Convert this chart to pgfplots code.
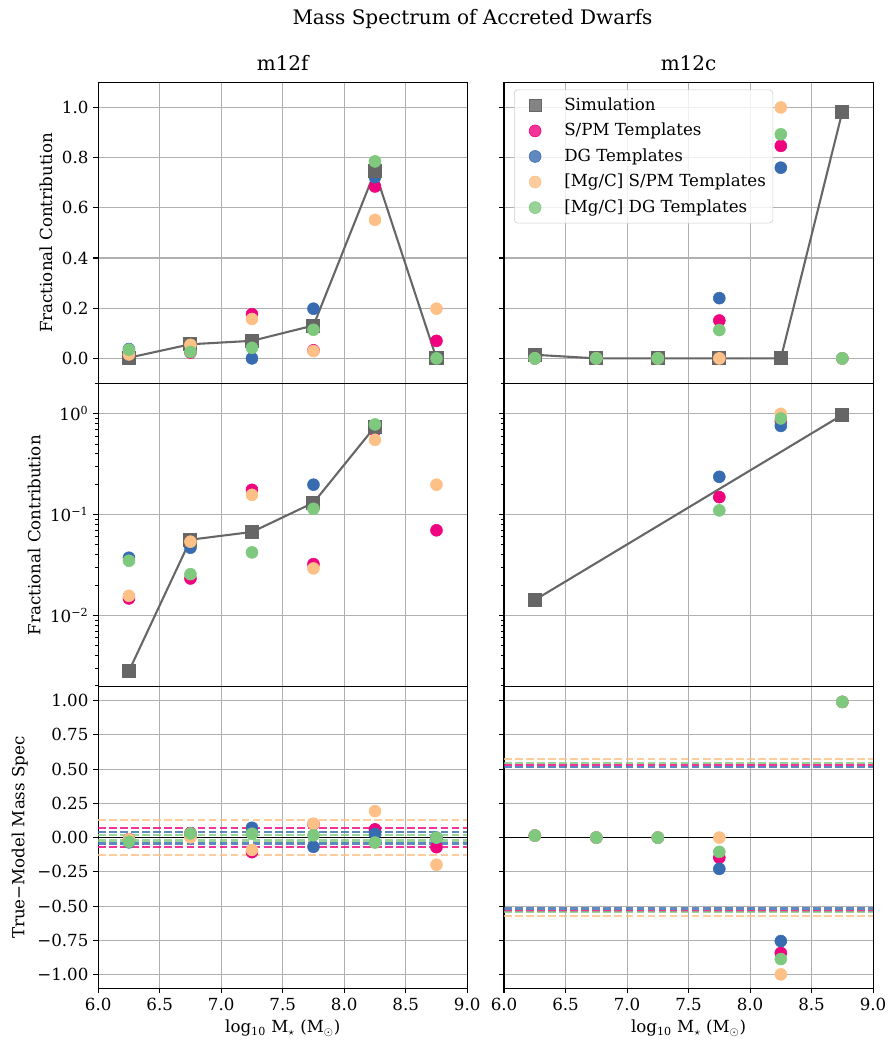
\documentclass[border=0pt]{standalone}
\usepackage{fontspec}
\setmainfont{DejaVu Serif}
\usepackage{pgfplots}
\pgfplotsset{compat=1.18}
\definecolor{cpink}{HTML}{F0027F}
\definecolor{cblue}{HTML}{386CB0}
\definecolor{corange}{HTML}{FDC086}
\definecolor{cgreen}{HTML}{7FC97F}
\definecolor{cgray}{HTML}{666666}
\definecolor{gridc}{HTML}{B0B0B0}
\pgfplotsset{
  panel/.style={scale only axis, width=265.7pt, xmin=6, xmax=9,
    xtick={6,6.5,7,7.5,8,8.5,9},
    grid=major, grid style={gridc, line width=0.8pt},
    tick align=outside, tick pos=left,
    major tick length=3.5pt, minor tick length=2pt,
    every tick/.style={black, line width=0.8pt},
    every minor tick/.style={black, line width=0.6pt},
    axis line style={black, line width=0.8pt},
    tick label style={font=\fontsize{12}{14}\selectfont},
    label style={font=\fontsize{12}{14}\selectfont},
    title style={font=\fontsize{14.4}{17}\selectfont, yshift=-1pt},
    clip=true},
  pinkm/.style={only marks, mark=*, mark size=4.3pt, color=cpink},
  bluem/.style={only marks, mark=*, mark size=4.3pt, color=cblue},
  orangem/.style={only marks, mark=*, mark size=4.3pt, color=corange},
  greenm/.style={only marks, mark=*, mark size=4.3pt, color=cgreen},
  simm/.style={color=cgray, line width=1.5pt, mark=square*, mark size=4.3pt, mark options={solid}},
  dl/.style={line width=1.5pt, dash pattern=on 5.55pt off 2.4pt, opacity=0.8},
  toppanel/.style={panel, height=216.8pt, ymin=-0.1, ymax=1.1,
    ytick={0,0.2,0.4,0.6,0.8,1.0}, xticklabels={}},
  midpanel/.style={panel, height=218.4pt, ymin=0.00195, ymax=2.0,
    ytick={0.01,0.1,1},
    minor ytick={0.002,0.003,0.004,0.005,0.006,0.007,0.008,0.009,0.02,0.03,0.04,0.05,0.06,0.07,0.08,0.09,0.2,0.3,0.4,0.5,0.6,0.7,0.8,0.9,2},
    xticklabels={}},
  botpanel/.style={panel, height=217.1pt, ymin=-1.1, ymax=1.1,
    ytick={-1,-0.75,-0.5,-0.25,0,0.25,0.5,0.75,1},
    xticklabels={6.0,6.5,7.0,7.5,8.0,8.5,9.0},
    xlabel={log\textsubscript{10} M$_\star$ (M$_\odot$)}},
  lgimg/.style={legend image code/.code={\path[draw=none,fill=none] (0pt,-4pt) rectangle (31pt,4pt); \draw[##1] plot coordinates {(12pt,0pt)};}},
}
\begin{document}
\begin{tikzpicture}
\path[use as bounding box] (0,0) rectangle (644.4pt,-756.7pt);
\node[font=\fontsize{14.4}{17}\selectfont] at (340.2pt,-13.5pt) {Mass Spectrum of Accreted Dwarfs};

% ---------- top left
\begin{axis}[toppanel, at={(70.7pt,-59.3pt)}, anchor=north west,
  yticklabels={0.0,0.2,0.4,0.6,0.8,1.0},
  ylabel={Fractional Contribution}, title={m12f}]
\addplot[pinkm] coordinates {(6.25,0.0147) (6.75,0.0232) (7.25,0.176) (7.75,0.0322) (8.25,0.685) (8.75,0.0698)};
\addplot[bluem] coordinates {(6.25,0.0373) (6.75,0.0469) (7.25,0) (7.75,0.198) (8.25,0.722) (8.75,0)};
\addplot[simm] coordinates {(6.25,0.0028) (6.75,0.0563) (7.25,0.070) (7.75,0.131) (8.25,0.745) (8.75,0)};
\addplot[orangem] coordinates {(6.25,0.0156) (6.75,0.0538) (7.25,0.157) (7.75,0.0292) (8.25,0.552) (8.75,0.198)};
\addplot[greenm] coordinates {(6.25,0.0348) (6.75,0.0256) (7.25,0.0421) (7.75,0.114) (8.25,0.785) (8.75,0)};
\end{axis}

% ---------- top right
\begin{axis}[toppanel, at={(362.9pt,-59.3pt)}, anchor=north west,
  yticklabels={}, title={m12c},
  legend style={at={(0.027,0.976)}, anchor=north west, draw=gray!40, rounded corners=2.5pt,
    fill=white, fill opacity=0.8, text opacity=1, font=\fontsize{12}{14}\selectfont,
    row sep=4.1pt, inner xsep=3pt, inner ysep=4pt,
    nodes={text height=9.5pt, text depth=2.8pt, inner ysep=1pt, inner xsep=2pt}},
  legend cell align=left]
\addlegendimage{lgimg, only marks, mark=square*, mark size=4.3pt, cgray}
\addlegendentry{Simulation}
\addlegendimage{lgimg, only marks, mark=*, mark size=4.3pt, cpink}
\addlegendentry{S/PM Templates}
\addlegendimage{lgimg, only marks, mark=*, mark size=4.3pt, cblue}
\addlegendentry{DG Templates}
\addlegendimage{lgimg, only marks, mark=*, mark size=4.3pt, corange}
\addlegendentry{[Mg/C] S/PM Templates}
\addlegendimage{lgimg, only marks, mark=*, mark size=4.3pt, cgreen}
\addlegendentry{[Mg/C] DG Templates}
\addplot[pinkm, forget plot] coordinates {(6.25,0) (6.75,0) (7.25,0) (7.75,0.151) (8.25,0.847) (8.75,0)};
\addplot[bluem, forget plot] coordinates {(6.25,0) (6.75,0) (7.25,0) (7.75,0.240) (8.25,0.760) (8.75,0)};
\addplot[simm, forget plot] coordinates {(6.25,0.0144) (6.75,0) (7.25,0) (7.75,0) (8.25,0) (8.75,0.983)};
\addplot[orangem, forget plot] coordinates {(6.25,0) (6.75,0) (7.25,0) (7.75,0) (8.25,1.0) (8.75,0)};
\addplot[greenm, forget plot] coordinates {(6.25,0) (6.75,0) (7.25,0) (7.75,0.113) (8.25,0.893) (8.75,0)};
\end{axis}

% ---------- middle left (log)
\begin{axis}[ymode=log, midpanel, at={(70.7pt,-276.1pt)}, anchor=north west,
  yticklabels={10\textsuperscript{−2},10\textsuperscript{−1},10\textsuperscript{0}},
  ylabel={Fractional Contribution}]
\addplot[pinkm] coordinates {(6.25,0.0147) (6.75,0.0232) (7.25,0.176) (7.75,0.0322) (8.25,0.685) (8.75,0.0698)};
\addplot[bluem] coordinates {(6.25,0.0373) (6.75,0.0469) (7.75,0.198) (8.25,0.722)};
\addplot[simm] coordinates {(6.25,0.0028) (6.75,0.0563) (7.25,0.0672) (7.75,0.131) (8.25,0.745)};
\addplot[orangem] coordinates {(6.25,0.0156) (6.75,0.0538) (7.25,0.157) (7.75,0.0292) (8.25,0.552) (8.75,0.198)};
\addplot[greenm] coordinates {(6.25,0.0348) (6.75,0.0256) (7.25,0.0421) (7.75,0.114) (8.25,0.785)};
\end{axis}

% ---------- middle right (log)
\begin{axis}[ymode=log, midpanel, at={(362.9pt,-276.1pt)}, anchor=north west, yticklabels={}]
\addplot[pinkm] coordinates {(7.75,0.149) (8.25,0.845)};
\addplot[bluem] coordinates {(7.75,0.237) (8.25,0.759)};
\addplot[simm] coordinates {(6.25,0.0142) (8.75,0.975)};
\addplot[orangem] coordinates {(8.25,1.0)};
\addplot[greenm] coordinates {(7.75,0.110) (8.25,0.899)};
\end{axis}

% ---------- bottom left
\begin{axis}[botpanel, at={(70.7pt,-494.5pt)}, anchor=north west,
  yticklabels={−1.00,−0.75,−0.50,−0.25,0.00,0.25,0.50,0.75,1.00},
  ylabel={True−Model Mass Spec}]
\addplot[black, line width=1pt] coordinates {(6,0) (9,0)};
\addplot[dl, cpink] coordinates {(6,0.071) (9,0.071)};
\addplot[dl, cpink] coordinates {(6,-0.071) (9,-0.071)};
\addplot[dl, cblue] coordinates {(6,0.043) (9,0.043)};
\addplot[dl, cblue] coordinates {(6,-0.043) (9,-0.043)};
\addplot[dl, corange] coordinates {(6,0.127) (9,0.127)};
\addplot[dl, corange] coordinates {(6,-0.125) (9,-0.125)};
\addplot[dl, cgreen] coordinates {(6,0.022) (9,0.022)};
\addplot[dl, cgreen] coordinates {(6,-0.021) (9,-0.021)};
\addplot[pinkm] coordinates {(6.25,-0.0119) (6.75,0.0331) (7.25,-0.106) (7.75,0.0988) (8.25,0.060) (8.75,-0.0698)};
\addplot[bluem] coordinates {(6.25,-0.0345) (6.75,0.0094) (7.25,0.072) (7.75,-0.067) (8.25,0.027) (8.75,0)};
\addplot[orangem] coordinates {(6.25,-0.0128) (6.75,0.0025) (7.25,-0.090) (7.75,0.101) (8.25,0.193) (8.75,-0.198)};
\addplot[greenm] coordinates {(6.25,-0.030) (6.75,0.0307) (7.25,0.028) (7.75,0.017) (8.25,-0.036) (8.75,0)};
\end{axis}

% ---------- bottom right
\begin{axis}[botpanel, at={(362.9pt,-494.5pt)}, anchor=north west, yticklabels={}]
\addplot[black, line width=1pt] coordinates {(6,0) (9,0)};
\addplot[dl, cpink] coordinates {(6,0.533) (9,0.533)};
\addplot[dl, cpink] coordinates {(6,-0.533) (9,-0.533)};
\addplot[dl, cblue] coordinates {(6,0.517) (9,0.517)};
\addplot[dl, cblue] coordinates {(6,-0.517) (9,-0.517)};
\addplot[dl, corange] coordinates {(6,0.571) (9,0.571)};
\addplot[dl, corange] coordinates {(6,-0.571) (9,-0.571)};
\addplot[dl, cgreen] coordinates {(6,0.546) (9,0.546)};
\addplot[dl, cgreen] coordinates {(6,-0.546) (9,-0.546)};
\addplot[pinkm] coordinates {(6.25,0.0144) (6.75,0) (7.25,0) (7.75,-0.146) (8.25,-0.842) (8.75,0.99)};
\addplot[bluem] coordinates {(6.25,0.0144) (6.75,0) (7.25,0) (7.75,-0.228) (8.25,-0.755) (8.75,0.99)};
\addplot[orangem] coordinates {(6.25,0.0144) (6.75,0) (7.25,0) (7.75,0) (8.25,-0.998) (8.75,0.99)};
\addplot[greenm] coordinates {(6.25,0.0144) (6.75,0) (7.25,0) (7.75,-0.104) (8.25,-0.886) (8.75,0.99)};
\end{axis}
\end{tikzpicture}
\end{document}
